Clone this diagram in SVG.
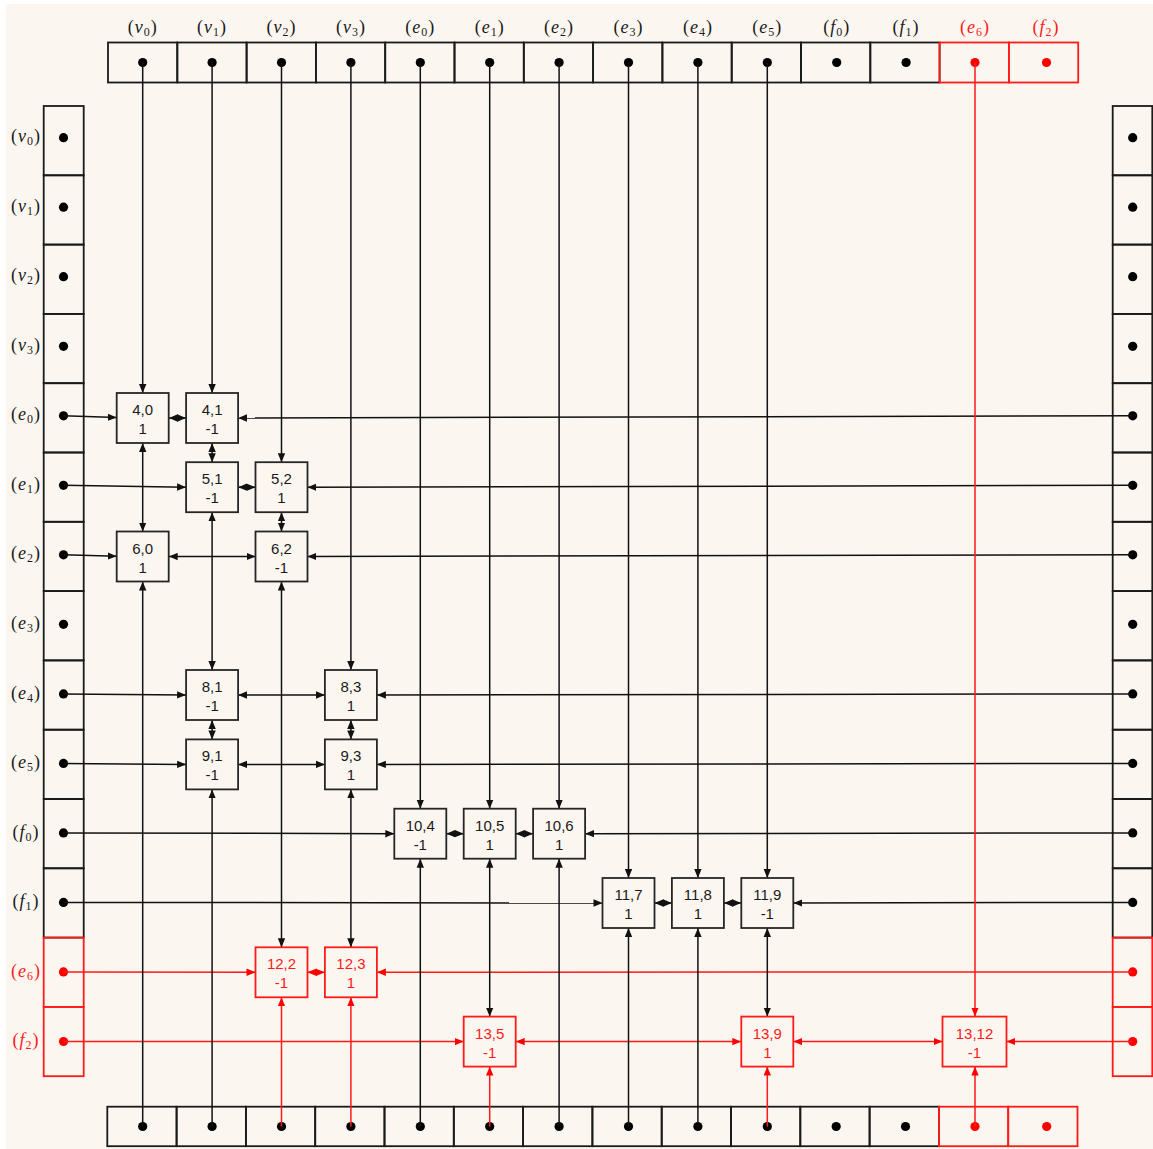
<svg xmlns="http://www.w3.org/2000/svg" width="1153" height="1149" viewBox="0 0 1153 1149">
<style>
.bg{fill:#FBF7F0}
.cell{fill:none;stroke:#1a1a1a;stroke-width:1.8}
.cellr{fill:none;stroke:#FF1A1A;stroke-width:1.8}
.dot{fill:#000}
.dotr{fill:#FF0000}
.lbl{font-family:"Liberation Serif",serif;font-size:18px;fill:#1a1a1a;text-anchor:middle;letter-spacing:1px}
.lblr{font-family:"Liberation Serif",serif;font-size:18px;fill:#FF1A1A;text-anchor:middle;letter-spacing:1px}
.it{font-style:italic}
.sub{font-size:12px}
.box{fill:#FBF7F0;stroke:#262626;stroke-width:1.8}
.boxr{fill:#FBF7F0;stroke:#FF1A1A;stroke-width:1.8}
.nt{font-family:"Liberation Sans",Arial,sans-serif;font-size:15px;fill:#1a1a1a;text-anchor:middle}
.ntr{font-family:"Liberation Sans",Arial,sans-serif;font-size:15px;fill:#FF1A1A;text-anchor:middle}
.c{fill:none;stroke:#111;stroke-width:1.5}
.cr{fill:none;stroke:#FF1A1A;stroke-width:1.5}
.s{marker-end:url(#a)}
.d{marker-start:url(#a);marker-end:url(#a)}
.sr{marker-end:url(#ar)}
.dr{marker-start:url(#ar);marker-end:url(#ar)}
</style>
<defs>
<marker id="a" markerUnits="userSpaceOnUse" markerWidth="9" markerHeight="8" viewBox="0 0 9 8" refX="9" refY="4" orient="auto-start-reverse"><path d="M0,0.3 L9,4 L0,7.7 z" fill="#111"/></marker>
<marker id="ar" markerUnits="userSpaceOnUse" markerWidth="9" markerHeight="8" viewBox="0 0 9 8" refX="9" refY="4" orient="auto-start-reverse"><path d="M0,0.3 L9,4 L0,7.7 z" fill="#FF0000"/></marker>
</defs>
<rect class="bg" x="6" y="4" width="1147" height="1145"/>

<g id="top-row">
<g id="top-v0"><rect class="cell" x="108" y="42.5" width="69.3" height="40"/><circle class="dot" cx="142.7" cy="62.5" r="4.6"/><text class="lbl" x="142.7" y="33">(<tspan class="it">v</tspan><tspan class="sub" dy="3">0</tspan><tspan dy="-3">)</tspan></text></g>
<g id="top-v1"><rect class="cell" x="177.3" y="42.5" width="69.3" height="40"/><circle class="dot" cx="212.1" cy="62.5" r="4.6"/><text class="lbl" x="212.1" y="33">(<tspan class="it">v</tspan><tspan class="sub" dy="3">1</tspan><tspan dy="-3">)</tspan></text></g>
<g id="top-v2"><rect class="cell" x="246.6" y="42.5" width="69.3" height="40"/><circle class="dot" cx="281.5" cy="62.5" r="4.6"/><text class="lbl" x="281.5" y="33">(<tspan class="it">v</tspan><tspan class="sub" dy="3">2</tspan><tspan dy="-3">)</tspan></text></g>
<g id="top-v3"><rect class="cell" x="315.9" y="42.5" width="69.3" height="40"/><circle class="dot" cx="350.9" cy="62.5" r="4.6"/><text class="lbl" x="350.9" y="33">(<tspan class="it">v</tspan><tspan class="sub" dy="3">3</tspan><tspan dy="-3">)</tspan></text></g>
<g id="top-e0"><rect class="cell" x="385.2" y="42.5" width="69.3" height="40"/><circle class="dot" cx="420.3" cy="62.5" r="4.6"/><text class="lbl" x="420.3" y="33">(<tspan class="it">e</tspan><tspan class="sub" dy="3">0</tspan><tspan dy="-3">)</tspan></text></g>
<g id="top-e1"><rect class="cell" x="454.5" y="42.5" width="69.3" height="40"/><circle class="dot" cx="489.7" cy="62.5" r="4.6"/><text class="lbl" x="489.7" y="33">(<tspan class="it">e</tspan><tspan class="sub" dy="3">1</tspan><tspan dy="-3">)</tspan></text></g>
<g id="top-e2"><rect class="cell" x="523.8" y="42.5" width="69.3" height="40"/><circle class="dot" cx="559.1" cy="62.5" r="4.6"/><text class="lbl" x="559.1" y="33">(<tspan class="it">e</tspan><tspan class="sub" dy="3">2</tspan><tspan dy="-3">)</tspan></text></g>
<g id="top-e3"><rect class="cell" x="593.1" y="42.5" width="69.3" height="40"/><circle class="dot" cx="628.5" cy="62.5" r="4.6"/><text class="lbl" x="628.5" y="33">(<tspan class="it">e</tspan><tspan class="sub" dy="3">3</tspan><tspan dy="-3">)</tspan></text></g>
<g id="top-e4"><rect class="cell" x="662.4" y="42.5" width="69.3" height="40"/><circle class="dot" cx="697.9" cy="62.5" r="4.6"/><text class="lbl" x="697.9" y="33">(<tspan class="it">e</tspan><tspan class="sub" dy="3">4</tspan><tspan dy="-3">)</tspan></text></g>
<g id="top-e5"><rect class="cell" x="731.7" y="42.5" width="69.3" height="40"/><circle class="dot" cx="767.3" cy="62.5" r="4.6"/><text class="lbl" x="767.3" y="33">(<tspan class="it">e</tspan><tspan class="sub" dy="3">5</tspan><tspan dy="-3">)</tspan></text></g>
<g id="top-f0"><rect class="cell" x="801" y="42.5" width="69.3" height="40"/><circle class="dot" cx="836.7" cy="62.5" r="4.6"/><text class="lbl" x="836.7" y="33">(<tspan class="it">f</tspan><tspan class="sub" dy="3">0</tspan><tspan dy="-3">)</tspan></text></g>
<g id="top-f1"><rect class="cell" x="870.3" y="42.5" width="69.3" height="40"/><circle class="dot" cx="906.1" cy="62.5" r="4.6"/><text class="lbl" x="906.1" y="33">(<tspan class="it">f</tspan><tspan class="sub" dy="3">1</tspan><tspan dy="-3">)</tspan></text></g>
<g id="top-e6"><rect class="cellr" x="939.6" y="42.5" width="69.3" height="40"/><circle class="dotr" cx="975" cy="62.5" r="4.6"/><text class="lblr" x="975" y="33">(<tspan class="it">e</tspan><tspan class="sub" dy="3">6</tspan><tspan dy="-3">)</tspan></text></g>
<g id="top-f2"><rect class="cellr" x="1008.9" y="42.5" width="69.3" height="40"/><circle class="dotr" cx="1046.5" cy="62.5" r="4.6"/><text class="lblr" x="1046" y="33">(<tspan class="it">f</tspan><tspan class="sub" dy="3">2</tspan><tspan dy="-3">)</tspan></text></g>
</g>

<g id="left-col">
<g id="left-v0"><rect class="cell" x="43.7" y="106" width="40" height="69.3"/><circle class="dot" cx="63.5" cy="137.7" r="4.6"/><text class="lbl" x="26" y="142.3">(<tspan class="it">v</tspan><tspan class="sub" dy="3">0</tspan><tspan dy="-3">)</tspan></text></g>
<g id="left-v1"><rect class="cell" x="43.7" y="175.3" width="40" height="69.3"/><circle class="dot" cx="63.5" cy="207.2" r="4.6"/><text class="lbl" x="26" y="211.8">(<tspan class="it">v</tspan><tspan class="sub" dy="3">1</tspan><tspan dy="-3">)</tspan></text></g>
<g id="left-v2"><rect class="cell" x="43.7" y="244.6" width="40" height="69.3"/><circle class="dot" cx="63.5" cy="276.7" r="4.6"/><text class="lbl" x="26" y="281.3">(<tspan class="it">v</tspan><tspan class="sub" dy="3">2</tspan><tspan dy="-3">)</tspan></text></g>
<g id="left-v3"><rect class="cell" x="43.7" y="313.9" width="40" height="69.3"/><circle class="dot" cx="63.5" cy="346.3" r="4.6"/><text class="lbl" x="26" y="350.9">(<tspan class="it">v</tspan><tspan class="sub" dy="3">3</tspan><tspan dy="-3">)</tspan></text></g>
<g id="left-e0"><rect class="cell" x="43.7" y="383.2" width="40" height="69.3"/><circle class="dot" cx="63.5" cy="415.8" r="4.6"/><text class="lbl" x="26" y="420.4">(<tspan class="it">e</tspan><tspan class="sub" dy="3">0</tspan><tspan dy="-3">)</tspan></text></g>
<g id="left-e1"><rect class="cell" x="43.7" y="452.5" width="40" height="69.3"/><circle class="dot" cx="63.5" cy="485.3" r="4.6"/><text class="lbl" x="26" y="489.9">(<tspan class="it">e</tspan><tspan class="sub" dy="3">1</tspan><tspan dy="-3">)</tspan></text></g>
<g id="left-e2"><rect class="cell" x="43.7" y="521.8" width="40" height="69.3"/><circle class="dot" cx="63.5" cy="554.8" r="4.6"/><text class="lbl" x="26" y="559.4">(<tspan class="it">e</tspan><tspan class="sub" dy="3">2</tspan><tspan dy="-3">)</tspan></text></g>
<g id="left-e3"><rect class="cell" x="43.7" y="591.1" width="40" height="69.3"/><circle class="dot" cx="63.5" cy="624.3" r="4.6"/><text class="lbl" x="26" y="628.9">(<tspan class="it">e</tspan><tspan class="sub" dy="3">3</tspan><tspan dy="-3">)</tspan></text></g>
<g id="left-e4"><rect class="cell" x="43.7" y="660.4" width="40" height="69.3"/><circle class="dot" cx="63.5" cy="693.9" r="4.6"/><text class="lbl" x="26" y="698.5">(<tspan class="it">e</tspan><tspan class="sub" dy="3">4</tspan><tspan dy="-3">)</tspan></text></g>
<g id="left-e5"><rect class="cell" x="43.7" y="729.7" width="40" height="69.3"/><circle class="dot" cx="63.5" cy="763.4" r="4.6"/><text class="lbl" x="26" y="768">(<tspan class="it">e</tspan><tspan class="sub" dy="3">5</tspan><tspan dy="-3">)</tspan></text></g>
<g id="left-f0"><rect class="cell" x="43.7" y="799" width="40" height="69.3"/><circle class="dot" cx="63.5" cy="832.9" r="4.6"/><text class="lbl" x="26" y="837.5">(<tspan class="it">f</tspan><tspan class="sub" dy="3">0</tspan><tspan dy="-3">)</tspan></text></g>
<g id="left-f1"><rect class="cell" x="43.7" y="868.3" width="40" height="69.3"/><circle class="dot" cx="63.5" cy="902.4" r="4.6"/><text class="lbl" x="26" y="907">(<tspan class="it">f</tspan><tspan class="sub" dy="3">1</tspan><tspan dy="-3">)</tspan></text></g>
<g id="left-e6"><rect class="cellr" x="43.7" y="937.6" width="40" height="69.3"/><circle class="dotr" cx="63.5" cy="971.9" r="4.6"/><text class="lblr" x="26" y="976.5">(<tspan class="it">e</tspan><tspan class="sub" dy="3">6</tspan><tspan dy="-3">)</tspan></text></g>
<g id="left-f2"><rect class="cellr" x="43.7" y="1006.9" width="40" height="69.3"/><circle class="dotr" cx="63.5" cy="1041.5" r="4.6"/><text class="lblr" x="26" y="1046.1">(<tspan class="it">f</tspan><tspan class="sub" dy="3">2</tspan><tspan dy="-3">)</tspan></text></g>
</g>

<g id="right-col">
<g id="right-v0"><rect class="cell" x="1112.7" y="106" width="39.6" height="69.3"/><circle class="dot" cx="1132.7" cy="137.7" r="4.6"/></g>
<g id="right-v1"><rect class="cell" x="1112.7" y="175.3" width="39.6" height="69.3"/><circle class="dot" cx="1132.7" cy="207.2" r="4.6"/></g>
<g id="right-v2"><rect class="cell" x="1112.7" y="244.6" width="39.6" height="69.3"/><circle class="dot" cx="1132.7" cy="276.7" r="4.6"/></g>
<g id="right-v3"><rect class="cell" x="1112.7" y="313.9" width="39.6" height="69.3"/><circle class="dot" cx="1132.7" cy="346.3" r="4.6"/></g>
<g id="right-e0"><rect class="cell" x="1112.7" y="383.2" width="39.6" height="69.3"/><circle class="dot" cx="1132.7" cy="415.8" r="4.6"/></g>
<g id="right-e1"><rect class="cell" x="1112.7" y="452.5" width="39.6" height="69.3"/><circle class="dot" cx="1132.7" cy="485.3" r="4.6"/></g>
<g id="right-e2"><rect class="cell" x="1112.7" y="521.8" width="39.6" height="69.3"/><circle class="dot" cx="1132.7" cy="554.8" r="4.6"/></g>
<g id="right-e3"><rect class="cell" x="1112.7" y="591.1" width="39.6" height="69.3"/><circle class="dot" cx="1132.7" cy="624.3" r="4.6"/></g>
<g id="right-e4"><rect class="cell" x="1112.7" y="660.4" width="39.6" height="69.3"/><circle class="dot" cx="1132.7" cy="693.9" r="4.6"/></g>
<g id="right-e5"><rect class="cell" x="1112.7" y="729.7" width="39.6" height="69.3"/><circle class="dot" cx="1132.7" cy="763.4" r="4.6"/></g>
<g id="right-f0"><rect class="cell" x="1112.7" y="799" width="39.6" height="69.3"/><circle class="dot" cx="1132.7" cy="832.9" r="4.6"/></g>
<g id="right-f1"><rect class="cell" x="1112.7" y="868.3" width="39.6" height="69.3"/><circle class="dot" cx="1132.7" cy="902.4" r="4.6"/></g>
<g id="right-e6"><rect class="cellr" x="1112.7" y="937.6" width="39.6" height="69.3"/><circle class="dotr" cx="1132.7" cy="971.9" r="4.6"/></g>
<g id="right-f2"><rect class="cellr" x="1112.7" y="1006.9" width="39.6" height="69.3"/><circle class="dotr" cx="1132.7" cy="1041.5" r="4.6"/></g>
</g>

<g id="bottom-row">
<g id="bot-v0"><rect class="cell" x="107.3" y="1106.7" width="69.3" height="39.5"/><circle class="dot" cx="142.7" cy="1126.5" r="4.6"/></g>
<g id="bot-v1"><rect class="cell" x="176.6" y="1106.7" width="69.3" height="39.5"/><circle class="dot" cx="212.1" cy="1126.5" r="4.6"/></g>
<g id="bot-v2"><rect class="cell" x="245.9" y="1106.7" width="69.3" height="39.5"/><circle class="dot" cx="281.5" cy="1126.5" r="4.6"/></g>
<g id="bot-v3"><rect class="cell" x="315.2" y="1106.7" width="69.3" height="39.5"/><circle class="dot" cx="350.9" cy="1126.5" r="4.6"/></g>
<g id="bot-e0"><rect class="cell" x="384.5" y="1106.7" width="69.3" height="39.5"/><circle class="dot" cx="420.3" cy="1126.5" r="4.6"/></g>
<g id="bot-e1"><rect class="cell" x="453.8" y="1106.7" width="69.3" height="39.5"/><circle class="dot" cx="489.7" cy="1126.5" r="4.6"/></g>
<g id="bot-e2"><rect class="cell" x="523.1" y="1106.7" width="69.3" height="39.5"/><circle class="dot" cx="559.1" cy="1126.5" r="4.6"/></g>
<g id="bot-e3"><rect class="cell" x="592.4" y="1106.7" width="69.3" height="39.5"/><circle class="dot" cx="628.5" cy="1126.5" r="4.6"/></g>
<g id="bot-e4"><rect class="cell" x="661.7" y="1106.7" width="69.3" height="39.5"/><circle class="dot" cx="697.9" cy="1126.5" r="4.6"/></g>
<g id="bot-e5"><rect class="cell" x="731" y="1106.7" width="69.3" height="39.5"/><circle class="dot" cx="767.3" cy="1126.5" r="4.6"/></g>
<g id="bot-f0"><rect class="cell" x="800.3" y="1106.7" width="69.3" height="39.5"/><circle class="dot" cx="836.2" cy="1126.5" r="4.6"/></g>
<g id="bot-f1"><rect class="cell" x="869.6" y="1106.7" width="69.3" height="39.5"/><circle class="dot" cx="905.5" cy="1126.5" r="4.6"/></g>
<g id="bot-e6"><rect class="cellr" x="938.9" y="1106.7" width="69.3" height="39.5"/><circle class="dotr" cx="975" cy="1126.5" r="4.6"/></g>
<g id="bot-f2"><rect class="cellr" x="1008.2" y="1106.7" width="69.3" height="39.5"/><circle class="dotr" cx="1046.7" cy="1126.5" r="4.6"/></g>
</g>

<g id="connectors">
<path class="cr sr" d="M63.5,971.9 L255.5,972.3"/>
<path class="cr dr" d="M307.5,972.3 L324.9,972.3"/>
<path class="cr sr" d="M1132.7,971.9 L376.9,972.3"/>
<path class="cr sr" d="M63.5,1041.5 L463.7,1041.6"/>
<path class="cr dr" d="M515.7,1041.6 L741.3,1041.6"/>
<path class="cr dr" d="M793.3,1041.6 L942.5,1041.6"/>
<path class="cr sr" d="M1132.7,1041.5 L1006.5,1041.6"/>
<path class="c s" d="M63.5,415.8 L116.7,417.6"/>
<path class="c d" d="M168.7,418 L186.1,418"/>
<path class="c s" d="M1132.7,415.8 L238.1,418"/>
<path class="c s" d="M63.5,485.3 L186.1,487.2"/>
<path class="c d" d="M238.1,487.2 L255.5,487.2"/>
<path class="c s" d="M1132.7,485.3 L307.5,487.2"/>
<path class="c s" d="M63.5,554.8 L116.7,556.3"/>
<path class="c d" d="M168.7,556.5 L255.5,556.5"/>
<path class="c s" d="M1132.7,554.8 L307.5,556.5"/>
<path class="c s" d="M63.5,693.9 L186.1,695"/>
<path class="c d" d="M238.1,695 L324.9,695"/>
<path class="c s" d="M1132.7,693.9 L376.9,695"/>
<path class="c s" d="M63.5,763.4 L186.1,764.4"/>
<path class="c d" d="M238.1,764.4 L324.9,764.4"/>
<path class="c s" d="M1132.7,763.4 L376.9,764.4"/>
<path class="c s" d="M63.5,832.9 L394.3,833.7"/>
<path class="c d" d="M446.3,833.7 L463.7,833.7"/>
<path class="c d" d="M515.7,833.7 L533.1,833.7"/>
<path class="c s" d="M1132.7,832.9 L585.1,833.7"/>
<path class="c s" d="M63.5,902.4 L602.5,903"/>
<path class="c d" d="M654.5,903 L671.9,903"/>
<path class="c d" d="M723.9,903 L741.3,903"/>
<path class="c s" d="M1132.7,902.4 L793.3,903"/>
<path class="cr sr" d="M975,62.5 L975,1016.6"/>
<path class="cr sr" d="M281.5,1126.5 L281.5,997.3"/>
<path class="cr sr" d="M350.9,1126.5 L350.9,997.3"/>
<path class="cr sr" d="M489.7,1126.5 L489.7,1066.6"/>
<path class="cr sr" d="M767.3,1126.5 L767.3,1066.6"/>
<path class="cr sr" d="M975,1126.5 L975,1066.6"/>
<path class="c s" d="M142.7,62.5 L142.7,393"/>
<path class="c s" d="M212.1,62.5 L212.1,393"/>
<path class="c s" d="M281.5,62.5 L281.5,462.2"/>
<path class="c s" d="M350.9,62.5 L350.9,670"/>
<path class="c s" d="M420.3,62.5 L420.3,808.7"/>
<path class="c s" d="M489.7,62.5 L489.7,808.7"/>
<path class="c s" d="M559.1,62.5 L559.1,808.7"/>
<path class="c s" d="M628.5,62.5 L628.5,878"/>
<path class="c s" d="M697.9,62.5 L697.9,878"/>
<path class="c s" d="M767.3,62.5 L767.3,878"/>
<path class="c d" d="M142.7,443 L142.7,531.5"/>
<path class="c d" d="M212.1,443 L212.1,462.2"/>
<path class="c d" d="M212.1,512.2 L212.1,670"/>
<path class="c d" d="M212.1,720 L212.1,739.4"/>
<path class="c d" d="M281.5,512.2 L281.5,531.5"/>
<path class="c d" d="M281.5,581.5 L281.5,947.3"/>
<path class="c d" d="M350.9,720 L350.9,739.4"/>
<path class="c d" d="M350.9,789.4 L350.9,947.3"/>
<path class="c d" d="M489.7,858.7 L489.7,1016.6"/>
<path class="c d" d="M767.3,928 L767.3,1016.6"/>
<path class="c s" d="M142.7,1126.5 L142.7,581.5"/>
<path class="c s" d="M212.1,1126.5 L212.1,789.4"/>
<path class="c s" d="M420.3,1126.5 L420.3,858.7"/>
<path class="c s" d="M559.1,1126.5 L559.1,858.7"/>
<path class="c s" d="M628.5,1126.5 L628.5,928"/>
<path class="c s" d="M697.9,1126.5 L697.9,928"/>
</g>

<g id="nodes">
<g id="n4-0"><rect class="box" x="116.7" y="393" width="52" height="50"/><text class="nt" x="142.7" y="415">4,0</text><text class="nt" x="142.7" y="434">1</text></g>
<g id="n4-1"><rect class="box" x="186.1" y="393" width="52" height="50"/><text class="nt" x="212.1" y="415">4,1</text><text class="nt" x="212.1" y="434">-1</text></g>
<g id="n5-1"><rect class="box" x="186.1" y="462.2" width="52" height="50"/><text class="nt" x="212.1" y="484.2">5,1</text><text class="nt" x="212.1" y="503.2">-1</text></g>
<g id="n5-2"><rect class="box" x="255.5" y="462.2" width="52" height="50"/><text class="nt" x="281.5" y="484.2">5,2</text><text class="nt" x="281.5" y="503.2">1</text></g>
<g id="n6-0"><rect class="box" x="116.7" y="531.5" width="52" height="50"/><text class="nt" x="142.7" y="553.5">6,0</text><text class="nt" x="142.7" y="572.5">1</text></g>
<g id="n6-2"><rect class="box" x="255.5" y="531.5" width="52" height="50"/><text class="nt" x="281.5" y="553.5">6,2</text><text class="nt" x="281.5" y="572.5">-1</text></g>
<g id="n8-1"><rect class="box" x="186.1" y="670" width="52" height="50"/><text class="nt" x="212.1" y="692">8,1</text><text class="nt" x="212.1" y="711">-1</text></g>
<g id="n8-3"><rect class="box" x="324.9" y="670" width="52" height="50"/><text class="nt" x="350.9" y="692">8,3</text><text class="nt" x="350.9" y="711">1</text></g>
<g id="n9-1"><rect class="box" x="186.1" y="739.4" width="52" height="50"/><text class="nt" x="212.1" y="761.4">9,1</text><text class="nt" x="212.1" y="780.4">-1</text></g>
<g id="n9-3"><rect class="box" x="324.9" y="739.4" width="52" height="50"/><text class="nt" x="350.9" y="761.4">9,3</text><text class="nt" x="350.9" y="780.4">1</text></g>
<g id="n10-4"><rect class="box" x="394.3" y="808.7" width="52" height="50"/><text class="nt" x="420.3" y="830.7">10,4</text><text class="nt" x="420.3" y="849.7">-1</text></g>
<g id="n10-5"><rect class="box" x="463.7" y="808.7" width="52" height="50"/><text class="nt" x="489.7" y="830.7">10,5</text><text class="nt" x="489.7" y="849.7">1</text></g>
<g id="n10-6"><rect class="box" x="533.1" y="808.7" width="52" height="50"/><text class="nt" x="559.1" y="830.7">10,6</text><text class="nt" x="559.1" y="849.7">1</text></g>
<g id="n11-7"><rect class="box" x="602.5" y="878" width="52" height="50"/><text class="nt" x="628.5" y="900">11,7</text><text class="nt" x="628.5" y="919">1</text></g>
<g id="n11-8"><rect class="box" x="671.9" y="878" width="52" height="50"/><text class="nt" x="697.9" y="900">11,8</text><text class="nt" x="697.9" y="919">1</text></g>
<g id="n11-9"><rect class="box" x="741.3" y="878" width="52" height="50"/><text class="nt" x="767.3" y="900">11,9</text><text class="nt" x="767.3" y="919">-1</text></g>
<g id="n12-2"><rect class="boxr" x="255.5" y="947.3" width="52" height="50"/><text class="ntr" x="281.5" y="969.3">12,2</text><text class="ntr" x="281.5" y="988.3">-1</text></g>
<g id="n12-3"><rect class="boxr" x="324.9" y="947.3" width="52" height="50"/><text class="ntr" x="350.9" y="969.3">12,3</text><text class="ntr" x="350.9" y="988.3">1</text></g>
<g id="n13-5"><rect class="boxr" x="463.7" y="1016.6" width="52" height="50"/><text class="ntr" x="489.7" y="1038.6">13,5</text><text class="ntr" x="489.7" y="1057.6">-1</text></g>
<g id="n13-9"><rect class="boxr" x="741.3" y="1016.6" width="52" height="50"/><text class="ntr" x="767.3" y="1038.6">13,9</text><text class="ntr" x="767.3" y="1057.6">1</text></g>
<g id="n13-12"><rect class="boxr" x="942.5" y="1016.6" width="64" height="50"/><text class="ntr" x="974.5" y="1038.6">13,12</text><text class="ntr" x="974.5" y="1057.6">-1</text></g>
</g>
</svg>
